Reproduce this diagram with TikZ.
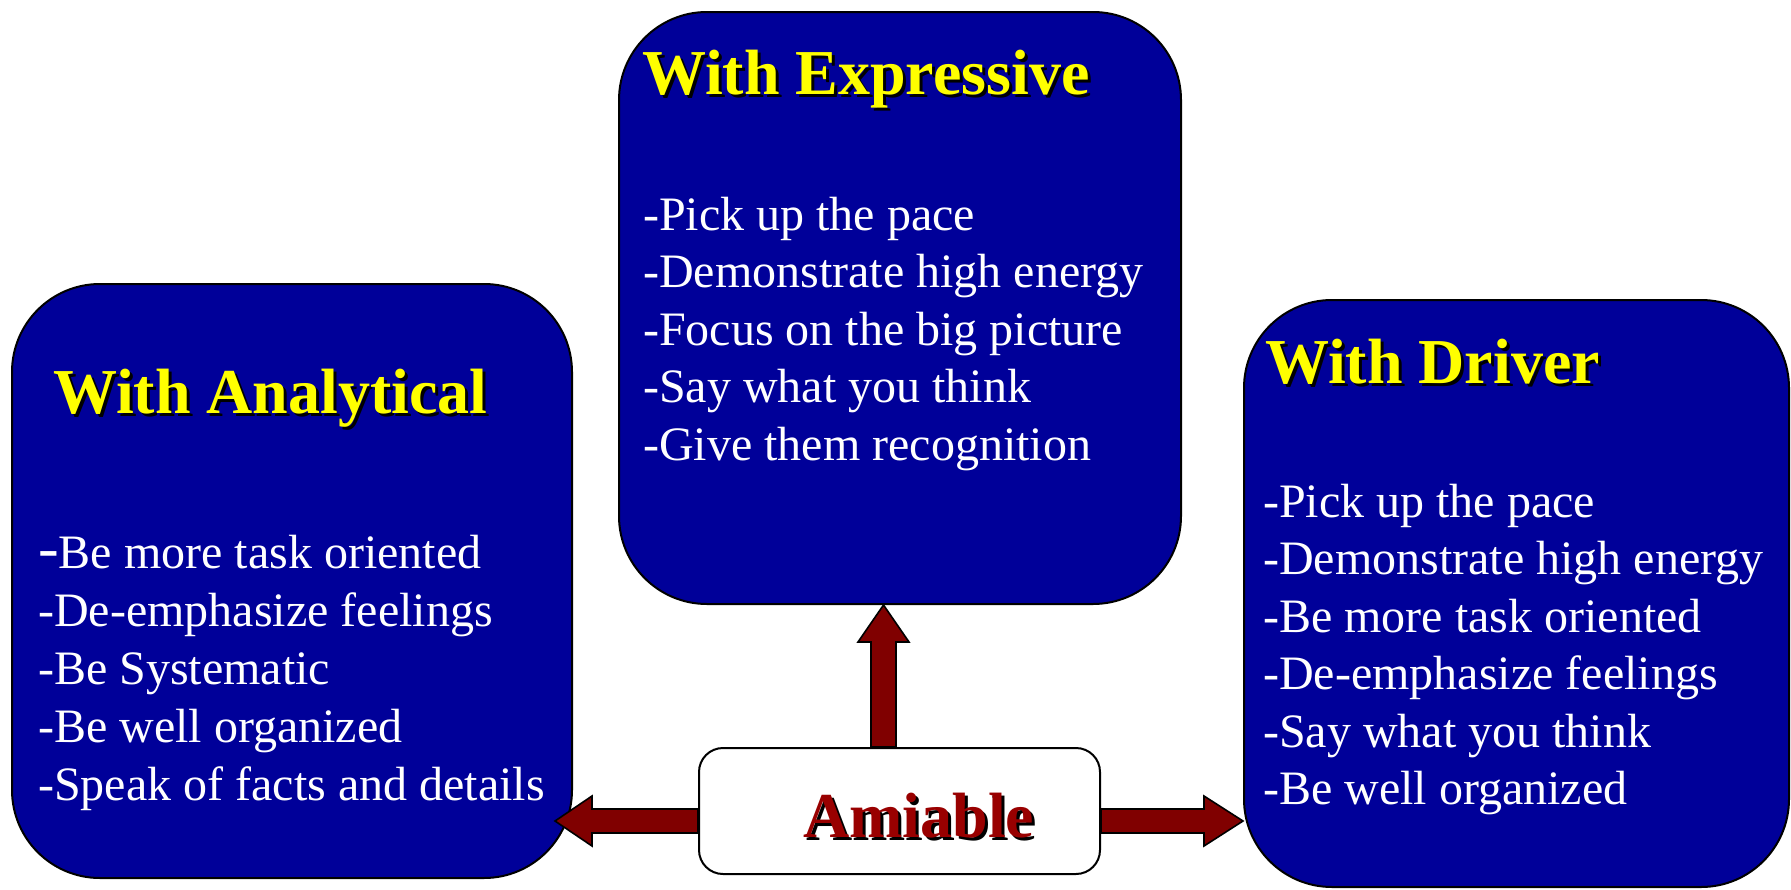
\documentclass[tikz,border=0pt]{standalone}
\usepackage{fontspec}
\setmainfont{Liberation Serif}
\usetikzlibrary{calc}
\definecolor{boxblue}{HTML}{000099}
\definecolor{arrowred}{HTML}{800000}
\definecolor{amired}{HTML}{990000}
\definecolor{titleyellow}{HTML}{FFFF00}

\begin{document}
\begin{tikzpicture}[x=1pt,y=-1pt,
  bluebox/.style={draw=black, line width=2pt, fill=boxblue, rounded corners=88pt,
    inner sep=0pt, anchor=north west},
  whitebox/.style={draw=black, line width=2pt, fill=white, rounded corners=24pt,
    inner sep=0pt, anchor=north west},
  headline/.style={font=\fontsize{64}{64}\selectfont\bfseries, text=titleyellow,
    anchor=base west, inner sep=0pt},
  headshadow/.style={headline, text=black},
  amitext/.style={headline, text=amired},
  item/.style={font=\fontsize{48}{48}\selectfont, text=white, anchor=base west, inner sep=0pt},
  fatarrow/.style={draw=black, line width=1.6pt, fill=arrowred, line join=miter},
]
\useasboundingbox (0,0) rectangle (1791,889);

% the three style boxes
\node[bluebox, minimum width=560pt, minimum height=594pt] (ana) at (11,283) {};
\node[bluebox, minimum width=562pt, minimum height=592pt] (exp) at (618,11) {};
\node[bluebox, minimum width=545pt, minimum height=587pt] (drv) at (1243,299) {};

% central box
\node[whitebox, minimum width=401pt, minimum height=126pt] (ami) at (698,747) {};

% block arrows from the central box
\coordinate (upbase) at ($(ami.north)+(-16,0)$);
\coordinate (uptip) at (upbase |- exp.south);
\draw[fatarrow] ($(upbase)+(-12.5,0)$) -- ($(uptip)+(-12.5,37)$) -- ($(uptip)+(-25.5,37)$)
  -- (uptip) -- ($(uptip)+(25.5,37)$) -- ($(uptip)+(12.5,37)$) -- ($(upbase)+(12.5,0)$) -- cycle;

\coordinate (lbase) at ($(ami.west)+(0,10)$);
\coordinate (ltip) at ($(lbase)+(-143,0)$);
\draw[fatarrow] ($(lbase)+(0,-12)$) -- ($(ltip)+(37,-12)$) -- ($(ltip)+(37,-25)$)
  -- (ltip) -- ($(ltip)+(37,25)$) -- ($(ltip)+(37,12)$) -- ($(lbase)+(0,12)$) -- cycle;

\coordinate (rbase) at ($(ami.east)+(0,10)$);
\coordinate (rtip) at (rbase -| drv.west);
\draw[fatarrow] ($(rbase)+(0,-12)$) -- ($(rtip)+(-39,-12)$) -- ($(rtip)+(-39,-25)$)
  -- (rtip) -- ($(rtip)+(-39,25)$) -- ($(rtip)+(-39,12)$) -- ($(rbase)+(0,12)$) -- cycle;

% headings with drop shadow
\node[headshadow] (anaTs) at (56,416) {With Analytical};
\node[headline] (anaT) at (53,413) {With Analytical};
\node[headshadow] (expTs) at (645,97) {With Expressive};
\node[headline] (expT) at (642,94) {With Expressive};
\node[headshadow] (drvTs) at (1268,386) {With Driver};
\node[headline] (drvT) at (1265,383) {With Driver};
\node[headshadow] (amiTs) at (806,840) {Amiable};
\node[amitext] (amiT) at (803,837) {Amiable};

% Analytical items
\node[item] (ana1) at (38,568) {{\fontsize{62}{62}\selectfont -}Be more task oriented};
\node[item] (ana2) at (38,626) {-De-emphasize feelings};
\node[item] (ana3) at (38,684) {-Be Systematic};
\node[item] (ana4) at (38,742) {-Be well organized};
\node[item] (ana5) at (38,800) {-Speak of facts and details};

% Expressive items
\node[item] (exp1) at (643,230) {-Pick up the pace};
\node[item] (exp2) at (643,287.5) {-Demonstrate high energy};
\node[item] (exp3) at (643,345) {-Focus on the big picture};
\node[item] (exp4) at (643,402.5) {-Say what you think};
\node[item] (exp5) at (643,460) {-Give them recognition};

% Driver items
\node[item] (drv1) at (1263,517) {-Pick up the pace};
\node[item] (drv2) at (1263,574.5) {-Demonstrate high energy};
\node[item] (drv3) at (1263,632) {-Be more task oriented};
\node[item] (drv4) at (1263,689.5) {-De-emphasize feelings};
\node[item] (drv5) at (1263,747) {-Say what you think};
\node[item] (drv6) at (1263,804.5) {-Be well organized};
\end{tikzpicture}
\end{document}
